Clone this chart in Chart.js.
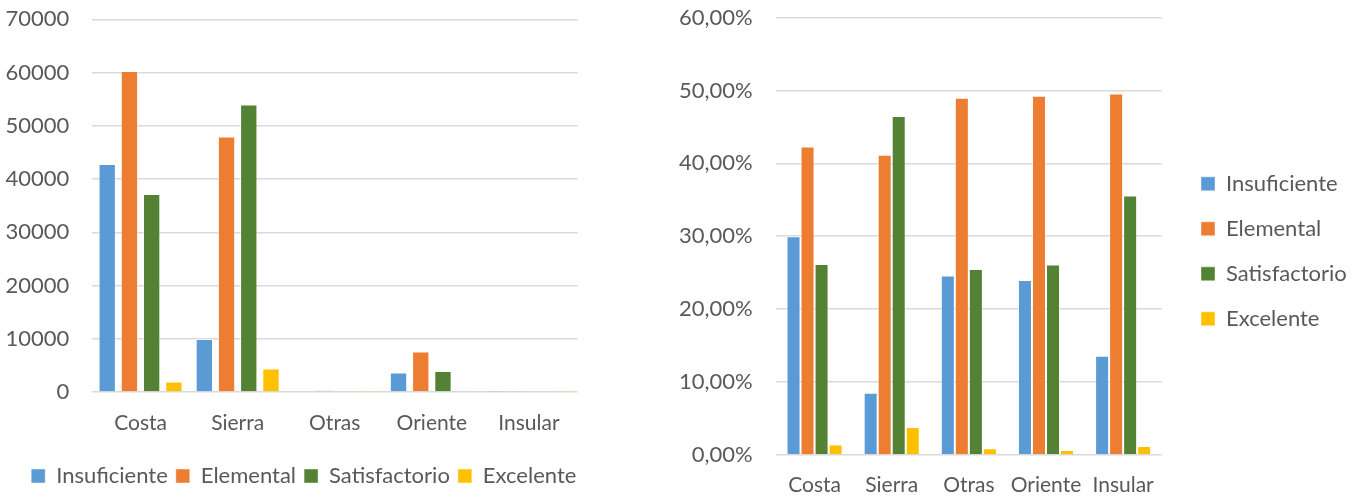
<!DOCTYPE html>
<html lang="es">
<head>
<meta charset="utf-8">
<title>Niveles de logro por región</title>
<script src="https://cdn.jsdelivr.net/npm/chart.js@4.4.1/dist/chart.umd.min.js"></script>
<style>
  html, body { margin: 0; padding: 0; background: #ffffff; overflow: hidden; }
  #wrap { position: relative; width: 1359px; height: 497px; }
  canvas { position: absolute; top: 0; }
  #countChart { left: 0; }
  #pctChart { left: 640px; }
</style>
</head>
<body>
<div id="wrap">
  <canvas id="countChart" width="600" height="497"></canvas>
  <canvas id="pctChart" width="719" height="497"></canvas>
</div>
<script>
// Regions and achievement levels
const regions = ['Costa', 'Sierra', 'Otras', 'Oriente', 'Insular'];
const levels = ['Insuficiente', 'Elemental', 'Satisfactorio', 'Excelente'];

// Number of students per level
const countInsuficiente  = [42800,  9950, 148, 3650,  54];
const countElemental     = [60300, 48000, 294, 7600, 198];
const countSatisfactorio = [37200, 54000, 152, 3950, 142];
const countExcelente     = [ 1950,  4400,   5,  110,   5];

// Share of students per level within each region (%)
const pctInsuficiente  = [30.0,  8.5, 24.6, 24.0, 13.6];
const pctElemental     = [42.3, 41.2, 49.0, 49.3, 49.6];
const pctSatisfactorio = [26.2, 46.5, 25.5, 26.1, 35.6];
const pctExcelente     = [ 1.4,  3.8,  0.9, 0.65,  1.2];

// Axis tick values
const countTicks = [0, 10000, 20000, 30000, 40000, 50000, 60000, 70000];
const pctTicks = [0, 10, 20, 30, 40, 50, 60];

const levelColors = ['#5B9BD5', '#ED7D31', '#548235', '#FFC000'];
const textColor = '#595959';
const gridColor = '#d9d9d9';
const fontFamily = 'Lato, "Open Sans", sans-serif';
const tickFont = { family: fontFamily, size: 22 };
const categoryFont = { family: fontFamily, size: 21 };
const legendFont = { family: fontFamily, size: 22 };

Chart.defaults.font.family = fontFamily;
Chart.defaults.color = textColor;

function makeDatasets(series, catPct, barPct) {
  return series.map((values, i) => ({
    label: levels[i],
    data: values,
    backgroundColor: levelColors[i],
    borderColor: 'rgba(255,255,255,0.45)',
    borderWidth: 1,
    categoryPercentage: catPct,
    barPercentage: barPct
  }));
}

// Fixed axis sizes, without the extra label padding
function fixWidth(w) {
  return s => { s.width = w; s.paddingTop = 0; s.paddingBottom = 0; };
}
function fixHeight(h) {
  return s => { s.height = h; s.paddingLeft = 0; s.paddingRight = 0; };
}

// Moves the legend block by a fixed offset after layout
const legendOffset = {
  id: 'legendOffset',
  afterLayout(chart, args, opts) {
    const lg = chart.legend;
    if (!lg) return;
    const dx = opts.dx || 0, dy = opts.dy || 0;
    lg.left += dx;
    lg.right += dx;
    if (opts.extendRight) lg.right = Math.max(lg.right, chart.width);
    lg.width = lg.right - lg.left;
    lg.top += dy;
    lg.bottom += dy;
  }
};

// Left: absolute counts
new Chart(document.getElementById('countChart'), {
  type: 'bar',
  data: {
    labels: regions,
    datasets: makeDatasets(
      [countInsuficiente, countElemental, countSatisfactorio, countExcelente],
      0.915, 0.78)
  },
  plugins: [legendOffset],
  options: {
    responsive: false,
    animation: false,
    devicePixelRatio: 1,
    layout: { padding: { left: 0, right: 22.5, top: 19.3, bottom: 0 } },
    plugins: {
      tooltip: { enabled: false },
      legendOffset: { dx: 15, dy: 0 },
      legend: {
        position: 'bottom',
        labels: { boxWidth: 14, boxHeight: 14, padding: 8, color: textColor, font: legendFont }
      }
    },
    scales: {
      x: {
        grid: { display: false, drawTicks: false },
        border: { display: false },
        ticks: { padding: 19, color: textColor, font: categoryFont, maxRotation: 0, autoSkip: false },
        afterFit: fixHeight(65)
      },
      y: {
        min: 0,
        max: 70000,
        afterBuildTicks: s => { s.ticks = countTicks.map(v => ({ value: v })); },
        grid: { color: gridColor, lineWidth: 1.5, drawTicks: false },
        border: { display: false },
        ticks: { padding: 22.7, color: textColor, font: tickFont, callback: v => String(v) },
        afterFit: fixWidth(92)
      }
    }
  }
});

// Right: percentages
new Chart(document.getElementById('pctChart'), {
  type: 'bar',
  data: {
    labels: regions,
    datasets: makeDatasets(
      [pctInsuficiente, pctElemental, pctSatisfactorio, pctExcelente],
      0.727, 1.0)
  },
  plugins: [legendOffset],
  options: {
    responsive: false,
    animation: false,
    devicePixelRatio: 1,
    layout: { padding: { left: 0, right: 47.3, top: 17.7, bottom: 0 } },
    plugins: {
      tooltip: { enabled: false },
      legendOffset: { dx: 16.3, dy: -6, extendRight: true },
      legend: {
        position: 'right',
        maxWidth: 150,
        labels: { boxWidth: 14, boxHeight: 14, padding: 23, color: textColor, font: legendFont }
      }
    },
    scales: {
      x: {
        grid: { display: false, drawTicks: false },
        border: { display: false },
        ticks: { padding: 17.7, color: textColor, font: categoryFont, maxRotation: 0, autoSkip: false },
        afterFit: fixHeight(42.3)
      },
      y: {
        min: 0,
        max: 60,
        afterBuildTicks: s => { s.ticks = pctTicks.map(v => ({ value: v })); },
        grid: { color: gridColor, lineWidth: 1.5, drawTicks: false },
        border: { display: false },
        ticks: {
          padding: 23.3, color: textColor, font: tickFont,
          callback: v => v.toFixed(2).replace('.', ',') + '%'
        },
        afterFit: fixWidth(136)
      }
    }
  }
});
</script>
</body>
</html>
